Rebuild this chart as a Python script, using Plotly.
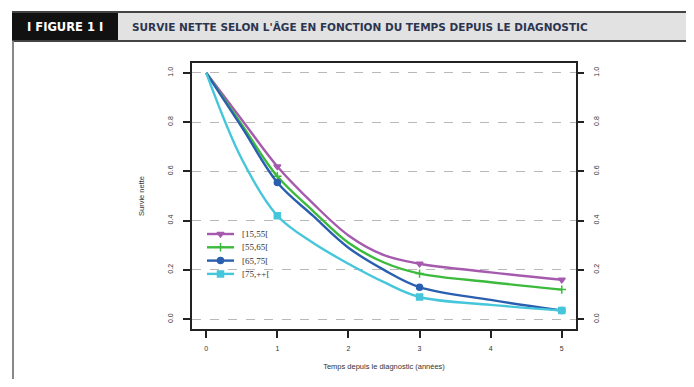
import plotly.graph_objects as go

# ---- data ----
curve_x = [0, 0.5, 1, 1.5, 2, 2.5, 3, 4, 5]
s_15_55 = [1.0, 0.81, 0.62, 0.47, 0.34, 0.26, 0.225, 0.19, 0.16]
s_55_65 = [1.0, 0.79, 0.58, 0.44, 0.31, 0.23, 0.185, 0.15, 0.12]
s_65_75 = [1.0, 0.78, 0.555, 0.42, 0.29, 0.20, 0.13, 0.078, 0.035]
s_75_pp = [1.0, 0.65, 0.42, 0.31, 0.225, 0.15, 0.09, 0.058, 0.035]

marker_x = [1, 3, 5]
series_names = ["[15,55[", "[55,65[", "[65,75[", "[75,++["]
x_ticks = [0, 1, 2, 3, 4, 5]
y_ticks = [0.0, 0.2, 0.4, 0.6, 0.8, 1.0]

header_label = "I FIGURE 1 I"
title_text = "SURVIE NETTE SELON L'ÂGE EN FONCTION DU TEMPS DEPUIS LE DIAGNOSTIC"
x_title = "Temps depuis le diagnostic (années)"
y_title = "Survie nette"

colors = ["#a55aae", "#3cba3c", "#2a5fb0", "#45c6da"]
symbols = ["triangle-down", "cross-thin", "circle", "square"]
series = [s_15_55, s_55_65, s_65_75, s_75_pp]

# layout geometry (window pixels; page body has an 8px margin)
OFF = 8
W, H = 694 - 2 * OFF, 387 - 2 * OFF
BOX_L, BOX_R, BOX_T, BOX_B = 192, 576, 63, 329
L, T = BOX_L - OFF, BOX_T - OFF
R, B = W - (BOX_R - OFF), H - (BOX_B - OFF)
PW, PH = W - L - R, H - T - B


def px(xw):
    return (xw - OFF - L) / PW


def py(yw):
    return (H - B - (yw - OFF)) / PH


fig = go.Figure()
for name, vals, col, sym in zip(series_names, series, colors, symbols):
    fig.add_trace(go.Scatter(x=curve_x, y=vals, mode="lines",
                             line=dict(color=col, width=2.4, shape="spline", smoothing=1.0),
                             showlegend=False, hoverinfo="skip"))
    my = [vals[curve_x.index(m)] for m in marker_x]
    fig.add_trace(go.Scatter(x=marker_x, y=my, mode="markers",
                             marker=dict(color=col, symbol=sym, size=6,
                                         line=dict(color=col, width=1.5)),
                             showlegend=False))

# invisible trace for right axis
fig.add_trace(go.Scatter(x=[0], y=[0], yaxis="y2", mode="markers",
                         marker=dict(opacity=0), showlegend=False, hoverinfo="skip"))

# hand-drawn compact legend on a pixel-based overlay axis
LEG_X0, LEG_X1, LEG_TXT, LEG_Y0, LEG_DY = 207, 234, 240, 234, 13.3
annotations = []
for i, (name, col, sym) in enumerate(zip(series_names, colors, symbols)):
    yy = LEG_Y0 + i * LEG_DY
    fig.add_trace(go.Scatter(x=[LEG_X0, LEG_X1], y=[yy, yy], xaxis="x2", yaxis="y3",
                             mode="lines", line=dict(color=col, width=2.4),
                             showlegend=False, hoverinfo="skip"))
    fig.add_trace(go.Scatter(x=[(LEG_X0 + LEG_X1) / 2], y=[yy], xaxis="x2", yaxis="y3",
                             mode="markers", marker=dict(color=col, symbol=sym, size=6,
                                                         line=dict(color=col, width=1.5)),
                             showlegend=False, hoverinfo="skip"))
    annotations.append(dict(text=name, xref="x2", yref="y3", x=LEG_TXT, y=yy,
                            xanchor="left", yanchor="middle", showarrow=False,
                            font=dict(family="Liberation Serif, Times New Roman", size=9, color="#333")))

tickfont = dict(family="Liberation Sans, Arial", size=7, color="#333")
fig.update_layout(
    width=W, height=H, margin=dict(l=L, r=R, t=T, b=B, autoexpand=False),
    paper_bgcolor="white", plot_bgcolor="white", showlegend=False,
    xaxis=dict(range=[-0.2, 5.2], tickvals=x_ticks, ticks="outside", ticklen=7,
               tickwidth=1.5, tickcolor="#222", showline=True, linecolor="#222",
               linewidth=1.5, mirror=True, showgrid=False, zeroline=False,
               tickfont=tickfont, ticklabelstandoff=5, automargin=False,
               title=dict(text=x_title, font=dict(family="Liberation Sans, Arial", size=7.5, color="#333"),
                          standoff=13)),
    xaxis2=dict(range=[BOX_L, BOX_R], overlaying="x", visible=False, domain=[0, 1]),
    yaxis=dict(range=[-0.04, 1.04], tickvals=y_ticks, tickformat=".1f", ticks="outside",
               ticklen=7, tickwidth=1.5, tickcolor="#222", showline=True, linecolor="#222",
               linewidth=1.5, mirror=True, showgrid=True, gridcolor="#b8b8b8",
               griddash="dash", gridwidth=1, zeroline=False, tickangle=-90,
               tickfont=tickfont, ticklabelstandoff=7, automargin=False,
               title=dict(text=y_title, font=dict(family="Liberation Sans, Arial", size=7.5, color="#333"),
                          standoff=22)),
    yaxis2=dict(range=[-0.04, 1.04], tickvals=y_ticks, tickformat=".1f", overlaying="y",
                side="right", ticks="outside", ticklen=7, tickwidth=1.5, tickcolor="#222",
                showgrid=False, zeroline=False, tickangle=-90, tickfont=tickfont,
                showline=False, ticklabelstandoff=7, automargin=False),
    yaxis3=dict(range=[BOX_B, BOX_T], overlaying="y", visible=False),
    shapes=[
        dict(type="rect", xref="paper", yref="paper", x0=px(12), x1=px(118), y0=py(41), y1=py(12),
             fillcolor="#111", line=dict(width=0), layer="above"),
        dict(type="rect", xref="paper", yref="paper", x0=px(118), x1=px(700), y0=py(41), y1=py(12),
             fillcolor="#e2e2e2", line=dict(width=0), layer="above"),
        dict(type="line", xref="paper", yref="paper", x0=px(12), x1=px(700), y0=py(12), y1=py(12),
             line=dict(color="#444", width=2)),
        dict(type="line", xref="paper", yref="paper", x0=px(12), x1=px(700), y0=py(41), y1=py(41),
             line=dict(color="#444", width=2)),
        dict(type="line", xref="paper", yref="paper", x0=px(13), x1=px(13), y0=py(41), y1=py(400),
             line=dict(color="#888", width=2)),
    ],
    annotations=annotations + [
        dict(text="<b>" + header_label + "</b>", xref="paper", yref="paper", x=px(65), y=py(27),
             showarrow=False, font=dict(family="DejaVu Sans", size=11.5, color="white"),
             xanchor="center", yanchor="middle"),
        dict(text="<b>" + title_text + "</b>", xref="paper", yref="paper", x=px(130), y=py(27),
             showarrow=False, font=dict(family="DejaVu Sans", size=10.5, color="#2c3550"),
             xanchor="left", yanchor="middle"),
    ],
)

fig.write_html("out.html")
